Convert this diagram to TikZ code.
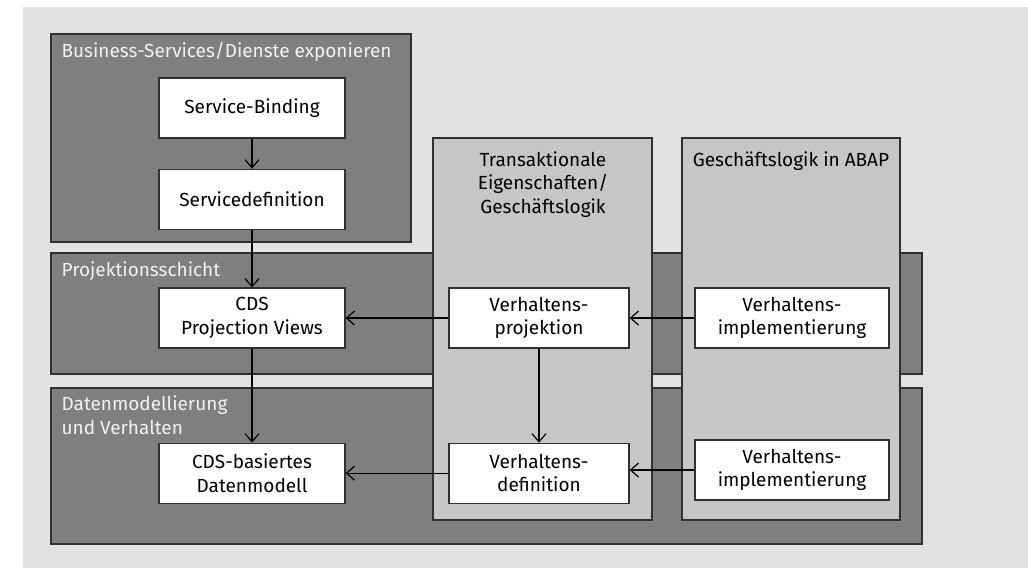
\documentclass[tikz,border=0pt]{standalone}
\usepackage{fontspec}
\setmainfont{Fira Sans}
\usetikzlibrary{positioning, arrows.meta}

\definecolor{bgGray}{HTML}{E2E2E2}
\definecolor{layerGray}{HTML}{7F7F7F}
\definecolor{colGray}{HTML}{C6C6C6}
\definecolor{lineGray}{HTML}{303030}
\definecolor{titleWhite}{HTML}{F2F2F2}

\begin{document}
\begin{tikzpicture}[x=1pt, y=-1pt, >={Straight Barb[length=8pt, width=14pt]}, line width=1.2pt,
  font=\fontsize{19}{23.5}\selectfont,
  layer/.style={draw=lineGray, fill=layerGray},
  column/.style={draw=lineGray, fill=colGray},
  box/.style={draw=lineGray, fill=white, minimum width=186pt, minimum height=60pt, align=center, inner sep=0pt},
  layertitle/.style={text=titleWhite, anchor=base west, inner sep=0pt, align=left},
  coltitle/.style={anchor=base, inner sep=0pt, align=center}]
  \useasboundingbox (0,0) rectangle (1028,568);
  \fill[bgGray] (23,7) rectangle (1028,568);

  % Schichten
  \draw[layer] (51,34) rectangle (411,242);
  \draw[layer] (51,253) rectangle (922,374);
  \draw[layer] (51,388) rectangle (922,544);
  \node[layertitle] (t1) at (61,57) {Business-Services/Dienste exponieren};
  \node[layertitle] (t2) at (61,276) {Projektionsschicht};
  \node[layertitle] (t3) at (61,434) {Datenmodellierung\\und Verhalten};

  % Spalten
  \draw[column] (433,138) rectangle (652,520);
  \draw[column] (682,138) rectangle (900,520);
  \node[coltitle] (ct1) at (543,213) {Transaktionale\\Eigenschaften/\\Geschäftslogik};
  \node[coltitle] (ct2) at (791,166) {Geschäftslogik in ABAP};

  % Kästen
  \node[box] (sb) at (252,108) {Service-Binding};
  \node[box, below=30pt of sb] (sd) {Servicedefinition};
  \node[box] (cpv) at (252,318) {CDS\\Projection Views};
  \node[box, below=94pt of cpv] (cdm) {CDS-basiertes\\Datenmodell};
  \node[box, minimum width=180pt] (vp) at (539,318) {Verhaltens-\\projektion};
  \node[box, minimum width=180pt, below=94pt of vp] (vd) {Verhaltens-\\definition};
  \node[box, minimum width=194pt] (vi1) at (792,318) {Verhaltens-\\implementierung};
  \node[box, minimum width=194pt] (vi2) at (792,470) {Verhaltens-\\implementierung};

  % Pfeile
  \draw[->] (sb) -- (sd);
  \draw[->] (sd) -- (cpv);
  \draw[->] (cpv) -- (cdm);
  \draw[->] (vp) -- (vd);
  \draw[->] (vp) -- (cpv);
  \draw[->] (vi1) -- (vp);
  \draw[->] (vd) -- (cdm);
  \draw[->] (vi2.west) -- (vi2.west -| vd.east);
\end{tikzpicture}
\end{document}
